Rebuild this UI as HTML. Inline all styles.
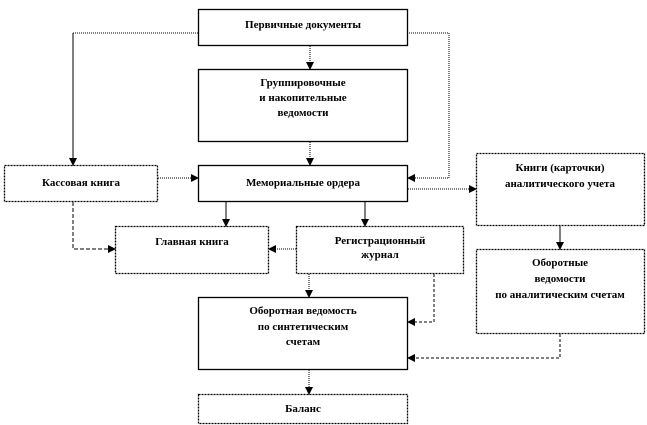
<!DOCTYPE html>
<html><head><meta charset="utf-8"><style>
html,body{margin:0;padding:0;background:#fff;width:647px;height:425px;overflow:hidden}
text{font-family:"Liberation Serif","DejaVu Serif",serif;font-weight:bold;font-size:11px;fill:#000;text-anchor:middle}
</style></head><body>
<svg width="647" height="425" viewBox="0 0 647 425" xmlns="http://www.w3.org/2000/svg">
<defs><marker id="a" markerWidth="8" markerHeight="8" refX="7" refY="4" orient="auto" markerUnits="userSpaceOnUse"><path d="M0,0 L8,4 L0,8 z" fill="#000"/></marker></defs>
<g fill="#fff" stroke="#000" stroke-width="1.3">
<rect x="198.5" y="9.5" width="209" height="36"/>
<rect x="198.5" y="69.5" width="209" height="72"/>
<rect x="4.5" y="165.5" width="153" height="36" stroke-dasharray="2,1"/>
<rect x="198.5" y="165.5" width="209" height="36"/>
<rect x="476.5" y="153.5" width="168" height="72" stroke-dasharray="2,1"/>
<rect x="115.5" y="226.5" width="153" height="47" stroke-dasharray="2,1"/>
<rect x="296.5" y="226.5" width="167" height="47" stroke-dasharray="2,1"/>
<rect x="476.5" y="249.5" width="168" height="84" stroke-dasharray="2,1"/>
<rect x="198.5" y="297.5" width="209" height="72"/>
<rect x="198.5" y="394.5" width="209" height="29" stroke-dasharray="2,1"/>
</g>
<g fill="none" stroke="#000" stroke-width="1">
<path d="M198,33 H73" stroke-dasharray="1,1"/>
<path d="M73,33 V165" marker-end="url(#a)"/>
<path d="M407,33 H449 V178 H408" stroke-dasharray="1,1" marker-end="url(#a)"/>
<path d="M310,46 V69" stroke-dasharray="1,1" marker-end="url(#a)"/>
<path d="M310,142 V165" stroke-dasharray="1,1" marker-end="url(#a)"/>
<path d="M158,178 H198" stroke-dasharray="1,1" marker-end="url(#a)"/>
<path d="M408,189 H476" stroke-dasharray="1,1" marker-end="url(#a)"/>
<path d="M73,202 V249 H115" stroke-dasharray="4,2" marker-end="url(#a)"/>
<path d="M226,202 V226" marker-end="url(#a)"/>
<path d="M365,202 V226" marker-end="url(#a)"/>
<path d="M296,249 H269" stroke-dasharray="1,1" marker-end="url(#a)"/>
<path d="M309,274 V297" stroke-dasharray="1,1" marker-end="url(#a)"/>
<path d="M434,274 V322 H408" stroke-dasharray="3,2" marker-end="url(#a)"/>
<path d="M560,226 V249" marker-end="url(#a)"/>
<path d="M560,334 V358 H408" stroke-dasharray="3,2" marker-end="url(#a)"/>
<path d="M309,370 V394" stroke-dasharray="1,1" marker-end="url(#a)"/>
</g>
<text x="303" y="28">Первичные документы</text>
<text x="303" y="86">Группировочные</text>
<text x="303" y="101">и накопительные</text>
<text x="303" y="116">ведомости</text>
<text x="81" y="186">Кассовая книга</text>
<text x="303" y="186">Мемориальные ордера</text>
<text x="560" y="171">Книги (карточки)</text>
<text x="560" y="187">аналитического учета</text>
<text x="192" y="245">Главная книга</text>
<text x="380" y="244">Регистрационный</text>
<text x="380" y="258">журнал</text>
<text x="560" y="266">Оборотные</text>
<text x="560" y="282">ведомости</text>
<text x="560" y="298">по аналитическим счетам</text>
<text x="303" y="314">Оборотная ведомость</text>
<text x="303" y="330">по синтетическим</text>
<text x="303" y="345">счетам</text>
<text x="303" y="412">Баланс</text>
</svg>
</body></html>
